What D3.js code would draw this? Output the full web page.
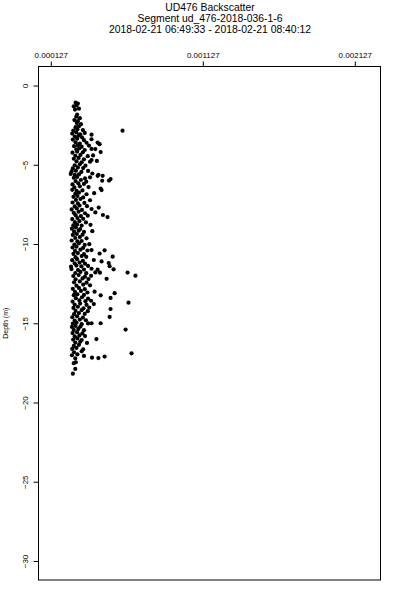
<!DOCTYPE html>
<html>
<head>
<meta charset="utf-8">
<script src="https://cdn.jsdelivr.net/npm/d3@7"></script>
<style>
    body { margin: 0; background: #fff; }
    svg text { font-family: "Liberation Sans", Arial, sans-serif; fill: #000; }
</style>
</head>
<body>
<div id="graph"></div>
<script>
var consts = {
    width: 400,
    height: 600,
    left: 38.5,
    right: 380.5,
    top: 66.5,
    bottom: 580
};

var titleLines = [
    'UD476 Backscatter',
    'Segment ud_476-2018-036-1-6',
    '2018-02-21 06:49:33 - 2018-02-21 08:40:12'
];
var xTicks = [0.000127, 0.001127, 0.002127];
var yTicks = [0, -5, -10, -15, -20, -25, -30];
var xLimits = [0.000046, 0.002296];
var yLimits = [-31.2, 1.2];

// main cloud of samples: depth (m) and matching backscatter
var depth = [
    -1.08, -1.14, -1.31, -1.26, -1.52, -1.46, -1.83, -1.97, -2.06, -2.18, -2.25, -2.37, -2.44, -2.63, -2.57,
    -2.84, -2.76, -2.81, -3.03, -2.95, -3.08, -2.99, -3.22, -3.16, -3.27, -3.41, -3.36, -3.45, -3.39,
    -3.58, -3.66, -3.61, -3.83, -3.77, -3.86, -3.79, -4.02, -3.96, -4.07, -4.01, -4.24, -4.17, -4.21,
    -4.43, -4.38, -4.46, -4.41, -4.62, -4.57, -4.66, -4.78, -4.84, -4.81, -4.76, -5.03, -4.97, -5.06,
    -5.23, -5.17, -5.21, -5.42, -5.37, -5.45, -5.39, -5.58, -5.64, -5.61, -5.55, -5.63,
    -5.82, -5.77, -5.86, -5.79, -6.03, -5.96, -6.07, -6.01, -6.24, -6.17, -6.21, -6.43, -6.36, -6.41,
    -6.58, -6.64, -6.62, -6.83, -6.76, -6.86, -6.79, -7.02, -6.97, -7.06, -7.22, -7.16, -7.24,
    -7.38, -7.44, -7.41, -7.63, -7.57, -7.61, -7.82, -7.76, -7.85, -7.79, -8.03, -7.96, -8.06, -8.01,
    -8.18, -8.24, -8.21, -8.17, -8.43, -8.36, -8.41, -8.62, -8.56, -8.64, -8.83, -8.77, -8.84, -8.79,
    -9.03, -8.96, -9.06, -9.22, -9.16, -9.24, -9.19, -9.43, -9.37, -9.41, -9.62, -9.56, -9.64,
    -9.78, -9.84, -9.81, -10.03, -9.96, -10.06, -10.01, -10.22, -10.17, -10.24,
    -10.43, -10.36, -10.41, -10.38, -10.62, -10.57, -10.64, -10.83, -10.76, -10.81,
    -11.02, -10.96, -11.06, -11.01, -11.22, -11.17, -11.24, -11.43, -11.36, -11.41, -11.38,
    -11.58, -11.64, -11.61, -11.56, -11.62, -11.83, -11.76, -11.84, -11.79, -11.81,
    -12.02, -11.96, -12.06, -12.01, -12.23, -12.17, -12.21, -12.42, -12.36, -12.44,
    -12.63, -12.56, -12.61, -12.83, -12.77, -12.85, -13.02, -12.96, -13.06, -13.01,
    -13.23, -13.17, -13.21, -13.24, -13.42, -13.36, -13.44, -13.63, -13.56, -13.61, -13.58,
    -13.82, -13.76, -13.84, -13.79, -14.03, -13.96, -14.06, -14.01, -14.22, -14.17, -14.24,
    -14.43, -14.36, -14.41, -14.62, -14.56, -14.64, -14.83, -14.77, -14.81,
    -15.02, -14.96, -15.06, -15.01, -15.23, -15.17, -15.21, -15.42, -15.36, -15.44,
    -15.62, -15.56, -15.64, -15.83, -15.77, -15.81, -16.03, -15.96, -16.06, -16.22, -16.17, -16.24,
    -16.43, -16.36, -16.62, -16.56, -16.64, -16.83, -16.77, -17.02, -16.96, -17.06,
    -17.22, -17.17, -17.52, -17.46, -17.88, -18.18
];
var backscatter = [
    0.000290, 0.000305, 0.000278, 0.000296, 0.000286, 0.000312, 0.000300, 0.000294, 0.000318, 0.000282, 0.000305, 0.000298, 0.000325, 0.000290, 0.000312,
    0.000275, 0.000302, 0.000338, 0.000268, 0.000295, 0.000320, 0.000350, 0.000285, 0.000310, 0.000332, 0.000272, 0.000300, 0.000345, 0.000395,
    0.000290, 0.000318, 0.000362, 0.000280, 0.000305, 0.000330, 0.000378, 0.000295, 0.000315, 0.000350, 0.000420, 0.000270, 0.000300, 0.000338,
    0.000288, 0.000322, 0.000370, 0.000405, 0.000278, 0.000310, 0.000345, 0.000296, 0.000330, 0.000385, 0.000430, 0.000284, 0.000318, 0.000355,
    0.000272, 0.000305, 0.000340, 0.000264, 0.000292, 0.000328, 0.000372, 0.000258, 0.000285, 0.000312, 0.000400, 0.000440,
    0.000278, 0.000300, 0.000352, 0.000385, 0.000290, 0.000325, 0.000360, 0.000465, 0.000270, 0.000308, 0.000345, 0.000282, 0.000318, 0.000375,
    0.000268, 0.000296, 0.000335, 0.000288, 0.000312, 0.000362, 0.000412, 0.000276, 0.000302, 0.000340, 0.000292, 0.000322, 0.000385,
    0.000270, 0.000305, 0.000348, 0.000284, 0.000316, 0.000365, 0.000264, 0.000298, 0.000332, 0.000395, 0.000278, 0.000310, 0.000352, 0.000420,
    0.000290, 0.000325, 0.000370, 0.000470, 0.000268, 0.000302, 0.000340, 0.000285, 0.000315, 0.000358, 0.000275, 0.000300, 0.000330, 0.000388,
    0.000266, 0.000292, 0.000320, 0.000280, 0.000310, 0.000345, 0.000400, 0.000272, 0.000298, 0.000336, 0.000288, 0.000318, 0.000362,
    0.000264, 0.000302, 0.000330, 0.000282, 0.000312, 0.000350, 0.000380, 0.000270, 0.000296, 0.000340,
    0.000286, 0.000322, 0.000368, 0.000395, 0.000276, 0.000305, 0.000345, 0.000290, 0.000330, 0.000360,
    0.000268, 0.000300, 0.000338, 0.000410, 0.000284, 0.000316, 0.000352, 0.000260, 0.000295, 0.000328, 0.000372,
    0.000263, 0.000306, 0.000345, 0.000395, 0.000435, 0.000288, 0.000322, 0.000360, 0.000420, 0.000450,
    0.000275, 0.000310, 0.000352, 0.000392, 0.000290, 0.000336, 0.000375, 0.000280, 0.000318, 0.000362,
    0.000296, 0.000340, 0.000385, 0.000272, 0.000312, 0.000350, 0.000286, 0.000325, 0.000368, 0.000415,
    0.000278, 0.000302, 0.000345, 0.000455, 0.000292, 0.000332, 0.000372, 0.000270, 0.000315, 0.000355, 0.000392,
    0.000284, 0.000320, 0.000362, 0.000410, 0.000276, 0.000305, 0.000342, 0.000380, 0.000290, 0.000330, 0.000370,
    0.000280, 0.000312, 0.000350, 0.000268, 0.000300, 0.000338, 0.000284, 0.000318, 0.000358,
    0.000272, 0.000296, 0.000330, 0.000372, 0.000266, 0.000290, 0.000322, 0.000278, 0.000308, 0.000345,
    0.000270, 0.000300, 0.000335, 0.000284, 0.000315, 0.000352, 0.000274, 0.000302, 0.000330, 0.000288, 0.000320, 0.000365,
    0.000278, 0.000312, 0.000268, 0.000296, 0.000340, 0.000280, 0.000330, 0.000266, 0.000302, 0.000345,
    0.000288, 0.000398, 0.000278, 0.000292, 0.000288, 0.000272
];

// scattered high readings to the right of the cloud
var outlierDepth = [
    -2.85, -3.1, -3.6, -3.7, -4.0, -4.2, -4.7, -5.7, -5.7, -5.9, -6.0, -6.5, -6.6, -7.7, -8.3,
    -10.4, -10.6, -10.8, -11.1, -11.2, -11.4, -11.6, -11.8, -12.0, -12.2, -13.1, -13.4, -13.7,
    -14.1, -14.6, -15.0, -15.0, -15.4, -16.0, -16.9, -17.1, -17.2
];
var outlierBackscatter = [
    0.000599, 0.000395, 0.000435, 0.000448, 0.000395, 0.000455, 0.000395, 0.000435, 0.000468, 0.000520, 0.000510, 0.000455, 0.000461, 0.000442, 0.000500,
    0.000481, 0.000448, 0.000534, 0.000461, 0.000508, 0.000514, 0.000540, 0.000632, 0.000684, 0.000494, 0.000547, 0.000520, 0.000638,
    0.000520, 0.000514, 0.000395, 0.000455, 0.000619, 0.000427, 0.000658, 0.000481, 0.000440
];

var vis = d3.select('#graph').append('svg')
    .attr('width', consts.width)
    .attr('height', consts.height);

var x = d3.scaleLinear().domain(xLimits).range([consts.left, consts.right]);
var y = d3.scaleLinear().domain(yLimits).range([consts.bottom, consts.top]);

// title
vis.selectAll('.title')
    .data(titleLines)
    .enter()
    .append('text')
    .attr('class', 'title')
    .attr('x', 210)
    .attr('y', function (d, i) { return 10.5 + i * 11; })
    .attr('text-anchor', 'middle')
    .style('font-size', '10.4px')
    .text(function (d) { return d; });

// top axis
var topAxis = vis.append('g')
    .attr('transform', 'translate(0,' + consts.top + ')')
    .call(d3.axisTop(x).tickValues(xTicks).tickSize(5).tickPadding(4).tickFormat(d3.format('.6f')));

// left axis
var leftAxis = vis.append('g')
    .attr('transform', 'translate(' + consts.left + ',0)')
    .call(d3.axisLeft(y).tickValues(yTicks).tickSize(5).tickFormat(d3.format('d')));

[topAxis, leftAxis].forEach(function (ax) {
    ax.select('.domain').remove();
    ax.selectAll('line').attr('stroke', '#000').attr('stroke-width', 1);
    ax.selectAll('text').style('font-size', '8px').style('font-family', '"Liberation Sans", Arial, sans-serif');
});

leftAxis.selectAll('text')
    .attr('x', null)
    .attr('dy', null)
    .attr('text-anchor', 'middle')
    .attr('transform', 'translate(-11,0) rotate(-90)');

// frame
vis.append('rect')
    .attr('x', consts.left)
    .attr('y', consts.top)
    .attr('width', consts.right - consts.left)
    .attr('height', consts.bottom - consts.top)
    .attr('fill', 'none')
    .attr('stroke', '#000')
    .attr('stroke-width', 1);

vis.append('text')
    .attr('transform', 'translate(8,' + ((consts.top + consts.bottom) / 2) + ') rotate(-90)')
    .attr('text-anchor', 'middle')
    .style('font-size', '7px')
    .text('Depth (m)');

var points = depth.map(function (d, i) { return { depth: d, value: backscatter[i] }; })
    .concat(outlierDepth.map(function (d, i) { return { depth: d, value: outlierBackscatter[i] }; }));

vis.append('g')
    .selectAll('circle')
    .data(points)
    .enter()
    .append('circle')
    .attr('cx', function (d) { return x(d.value); })
    .attr('cy', function (d) { return y(d.depth); })
    .attr('r', 2.1)
    .attr('fill', '#000');
</script>
</body>
</html>
